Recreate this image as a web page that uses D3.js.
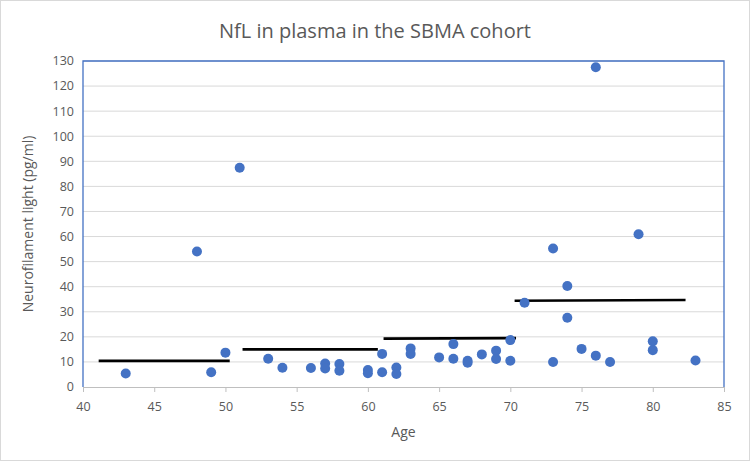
<!DOCTYPE html>
<html>
<head>
<meta charset="utf-8">
<script src="https://cdn.jsdelivr.net/npm/d3@7"></script>
<style>
  body { margin: 0; background: #fff; }
  text { font-family: "Open Sans", "Noto Sans", sans-serif; fill: #595959; }
</style>
</head>
<body>
<div class="chart"></div>
<script>
// ages and NfL values
var ages = [43, 48, 49, 50, 51, 53, 54, 56, 57, 57, 58, 58, 60, 60, 61, 61, 62, 62, 63, 63,
            65, 66, 66, 67, 67, 68, 69, 69, 70, 70, 71, 73, 73, 74, 74, 75, 76, 76, 77, 79,
            80, 80, 83];
var nfl = [5.4, 54, 5.9, 13.7, 87.4, 11.3, 7.7, 7.6, 9.4, 7.4, 9.2, 6.5, 6.8, 5.5, 13.2, 5.9, 7.8, 5.2, 15.4, 13.2,
           11.8, 17.1, 11.3, 10.5, 9.7, 13, 14.5, 11.2, 18.7, 10.5, 33.6, 55.2, 10, 40.3, 27.6, 15.2, 127.5, 12.5, 10, 60.9,
           18.2, 14.7, 10.6];

// decade mean lines
var meanStart = [41.1, 51.2, 61.1, 70.3];
var meanEnd = [50.3, 60.7, 70.4, 82.3];
var meanStartVal = [10.4, 15.0, 19.3, 34.4];
var meanEndVal = [10.4, 15.0, 19.5, 34.7];

var xTicks = [40, 45, 50, 55, 60, 65, 70, 75, 80, 85];
var yTicks = [0, 10, 20, 30, 40, 50, 60, 70, 80, 90, 100, 110, 120, 130];

var W = 750, H = 461;
var margin = {top: 61, right: 26, bottom: 74, left: 83};
var width = W - margin.left - margin.right;
var height = H - margin.top - margin.bottom;

var svg = d3.select(".chart")
    .append("svg")
    .attr("width", W)
    .attr("height", H);

svg.append("rect")
    .attr("x", 0.5).attr("y", 0.5)
    .attr("width", W - 1).attr("height", H - 1)
    .attr("fill", "#fff")
    .attr("stroke", "#d9d9d9");

svg.append("text")
    .attr("x", W / 2).attr("y", 38)
    .attr("text-anchor", "middle")
    .style("font-size", "20px")
    .text("NfL in plasma in the SBMA cohort");

var g = svg.append("g").attr("transform", "translate(" + margin.left + "," + margin.top + ")");

var x = d3.scaleLinear().domain([40, 85]).range([0, width]);
var y = d3.scaleLinear().domain([0, 130]).range([height, 0]);

// gridlines
g.selectAll(".grid")
    .data(yTicks.slice(1))
    .enter().append("line")
    .attr("x1", 0).attr("x2", width)
    .attr("y1", function(d) { return y(d); })
    .attr("y2", function(d) { return y(d); })
    .attr("stroke", "#d9d9d9")
    .attr("stroke-width", 1);

// y axis labels
g.selectAll(".ylab")
    .data(yTicks)
    .enter().append("text")
    .attr("x", -9)
    .attr("y", function(d) { return y(d); })
    .attr("dy", "0.35em")
    .attr("text-anchor", "end")
    .style("font-size", "12.5px")
    .text(function(d) { return d; });

// x axis
var xAxis = g.append("g")
    .attr("transform", "translate(0," + height + ")")
    .call(d3.axisBottom(x).tickValues(xTicks).tickSize(5).tickPadding(10));
xAxis.select(".domain").attr("stroke", "#bfbfbf");
xAxis.selectAll(".tick line").attr("stroke", "#bfbfbf");
xAxis.selectAll("text").style("font-size", "12.5px").attr("fill", "#595959")
    .style("font-family", '"Open Sans", "Noto Sans", sans-serif');

// plot area border (left, top, right)
g.append("path")
    .attr("d", "M0," + height + "V0H" + width + "V" + height)
    .attr("fill", "none")
    .attr("stroke", "#4472c4")
    .attr("stroke-width", 1.3);

// mean lines
g.selectAll(".mean")
    .data(meanStart)
    .enter().append("line")
    .attr("x1", function(d) { return x(d); })
    .attr("x2", function(d, i) { return x(meanEnd[i]); })
    .attr("y1", function(d, i) { return y(meanStartVal[i]); })
    .attr("y2", function(d, i) { return y(meanEndVal[i]); })
    .attr("stroke", "#000")
    .attr("stroke-width", 2.6);

// points
g.selectAll(".dot")
    .data(ages)
    .enter().append("circle")
    .attr("cx", function(d) { return x(d); })
    .attr("cy", function(d, i) { return y(nfl[i]); })
    .attr("r", 5)
    .attr("fill", "#4472c4");

svg.append("text")
    .attr("x", margin.left + width / 2).attr("y", 437)
    .attr("text-anchor", "middle")
    .style("font-size", "14px")
    .text("Age");

svg.append("text")
    .attr("transform", "translate(33," + (margin.top + height / 2) + ") rotate(-90)")
    .attr("text-anchor", "middle")
    .style("font-size", "14px")
    .text("Neurofilament light (pg/ml)");
</script>
</body>
</html>
